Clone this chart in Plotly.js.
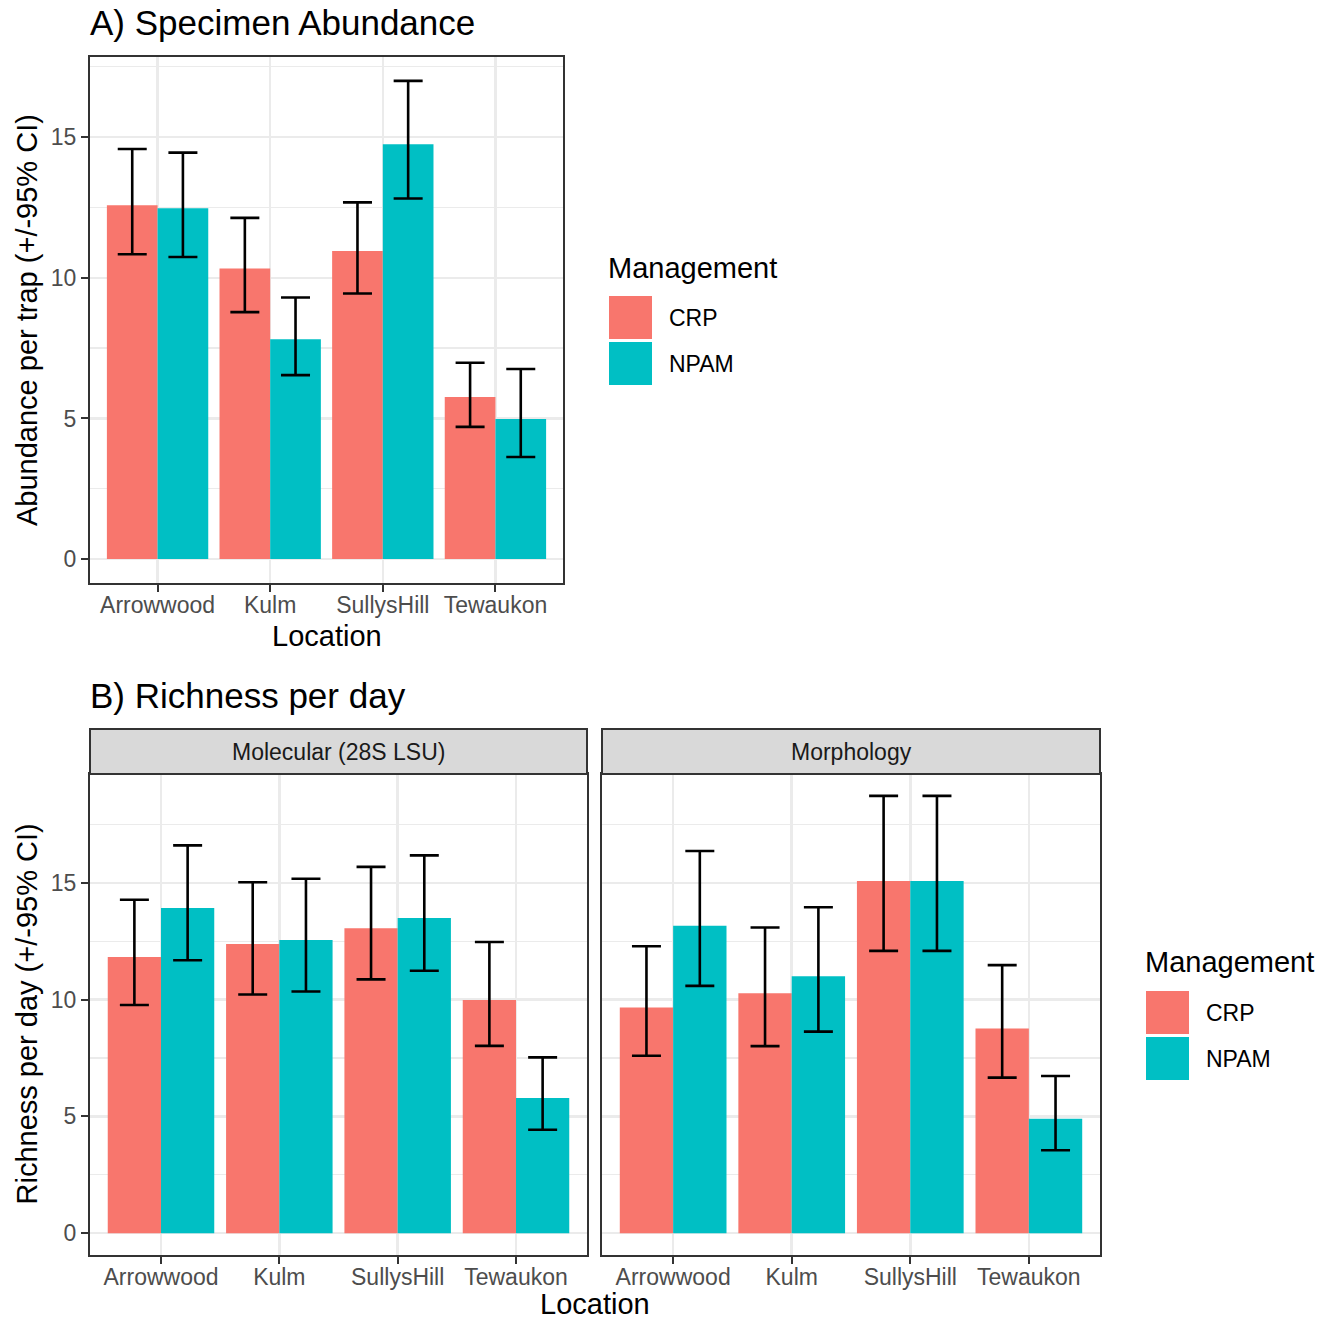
<!DOCTYPE html>
<html>
<head>
<meta charset="utf-8">
<script src="https://cdn.plot.ly/plotly-3.0.1.min.js"></script>
<style>html,body{margin:0;padding:0;background:#fff;}#chart{width:1333px;height:1322px;}</style>
</head>
<body>
<div id="chart"></div>
<script>
// ---------- data ----------
const locations = ['Arrowwood', 'Kulm', 'SullysHill', 'Tewaukon'];
const groups = ['CRP', 'NPAM'];

// A) Specimen abundance per trap (mean, lower, upper 95% CI)
const abundCRP     = [12.58, 10.33, 10.95, 5.76];
const abundCRPlo   = [10.84,  8.78,  9.44, 4.70];
const abundCRPhi   = [14.58, 12.13, 12.68, 6.98];
const abundNPAM    = [12.47,  7.82, 14.75, 4.98];
const abundNPAMlo  = [10.74,  6.54, 12.82, 3.63];
const abundNPAMhi  = [14.45,  9.30, 17.00, 6.76];

// B) Richness per day — Molecular (28S LSU)
const molCRP     = [11.83, 12.38, 13.06,  9.99];
const molCRPlo   = [ 9.77, 10.22, 10.87,  8.02];
const molCRPhi   = [14.28, 15.03, 15.69, 12.47];
const molNPAM    = [13.93, 12.56, 13.50,  5.79];
const molNPAMlo  = [11.69, 10.35, 11.24,  4.43];
const molNPAMhi  = [16.61, 15.18, 16.18,  7.53];

// B) Richness per day — Morphology
const morCRP     = [ 9.67, 10.28, 15.08,  8.77];
const morCRPlo   = [ 7.60,  8.01, 12.09,  6.66];
const morCRPhi   = [12.29, 13.09, 18.73, 11.48];
const morNPAM    = [13.17, 11.00, 15.08,  4.90];
const morNPAMlo  = [10.59,  8.63, 12.09,  3.55];
const morNPAMhi  = [16.37, 13.96, 18.73,  6.73];

const facetLabels = ['Molecular (28S LSU)', 'Morphology'];
const colors = {CRP: '#F8766D', NPAM: '#00BFC4'};

// ---------- helpers ----------
const W = 1333, H = 1322;
const px = v => v / W;
const py = v => 1 - v / H;
const FONT = 'Liberation Sans, Arial, Helvetica, sans-serif';

function barTrace(name, vals, lo, hi, xa, ya) {
  return {
    type: 'bar', name: name, x: locations, y: vals,
    xaxis: xa, yaxis: ya, showlegend: false,
    marker: {color: colors[name], line: {width: 0}},
    error_y: {
      type: 'data', symmetric: false,
      array: hi.map((h, i) => h - vals[i]),
      arrayminus: lo.map((l, i) => vals[i] - l),
      color: '#000000', thickness: 2.6, width: 14.5
    },
    hoverinfo: 'x+y+name'
  };
}

const data = [
  barTrace('CRP',  abundCRP,  abundCRPlo,  abundCRPhi,  'x',  'y'),
  barTrace('NPAM', abundNPAM, abundNPAMlo, abundNPAMhi, 'x',  'y'),
  barTrace('CRP',  molCRP,    molCRPlo,    molCRPhi,    'x2', 'y2'),
  barTrace('NPAM', molNPAM,   molNPAMlo,   molNPAMhi,   'x2', 'y2'),
  barTrace('CRP',  morCRP,    morCRPlo,    morCRPhi,    'x3', 'y3'),
  barTrace('NPAM', morNPAM,   morNPAMlo,   morNPAMhi,   'x3', 'y3')
];

const maxA = Math.max(...abundCRPhi, ...abundNPAMhi);
const maxB = Math.max(...molCRPhi, ...molNPAMhi, ...morCRPhi, ...morNPAMhi);
const rangeA = [-0.05 * maxA, maxA * 1.05];
const rangeB = [-0.05 * maxB, maxB * 1.05];

const tickFont = {family: FONT, size: 23, color: '#4D4D4D'};
function xAxis(domain, anchor) {
  return {
    domain: domain, anchor: anchor, type: 'category',
    range: [-0.6, 3.6], fixedrange: true,
    showgrid: true, gridcolor: '#EBEBEB', gridwidth: 2.5,
    showline: true, linecolor: '#333333', linewidth: 2, mirror: true,
    ticks: 'outside', ticklen: 7, tickwidth: 2, tickcolor: '#333333',
    ticklabelstandoff: -7,
    tickfont: tickFont, zeroline: false, automargin: false
  };
}
function yAxis(domain, anchor, range, showLabels) {
  return {
    domain: domain, anchor: anchor, range: range, fixedrange: true,
    tick0: 0, dtick: 5,
    showgrid: true, gridcolor: '#EBEBEB', gridwidth: 2.5,
    minor: {tick0: 0, dtick: 2.5, showgrid: true, gridcolor: '#EBEBEB', gridwidth: 1.3, ticks: ''},
    showline: true, linecolor: '#333333', linewidth: 2, mirror: true,
    ticks: showLabels ? 'outside' : '', ticklen: 7, tickwidth: 2, tickcolor: '#333333',
    showticklabels: showLabels, tickfont: tickFont,
    zeroline: false, automargin: false
  };
}

// pixel layout
const A = {l: 90, r: 563, t: 57, b: 583};
const B1 = {l: 90, r: 587, t: 774, b: 1255, st: 729};
const B2 = {l: 602, r: 1100, t: 774, b: 1255, st: 729};

const shapes = [];
const annotations = [];

function ann(text, x, y, size, opts) {
  annotations.push(Object.assign({
    text: text, xref: 'paper', yref: 'paper', x: px(x), y: py(y),
    xanchor: 'left', yanchor: 'middle', showarrow: false,
    font: {family: FONT, size: size, color: '#000000'}
  }, opts || {}));
}

// titles
ann('A) Specimen Abundance', 88, 23, 35);
ann('B) Richness per day', 88, 695, 35);
// axis titles
ann('Location', (A.l + A.r) / 2, 636, 29, {xanchor: 'center'});
ann('Location', (B1.l + B2.r) / 2, 1304, 29, {xanchor: 'center'});
ann('Abundance per trap (+/-95% CI)', 27, (A.t + A.b) / 2, 29, {xanchor: 'center', textangle: -90});
ann('Richness per day (+/-95% CI)', 27, (B1.t + B1.b) / 2, 29, {xanchor: 'center', textangle: -90});

// strips
[B1, B2].forEach((p, i) => {
  shapes.push({type: 'rect', xref: 'paper', yref: 'paper', layer: 'above',
    x0: px(p.l), x1: px(p.r), y0: py(p.st), y1: py(p.t),
    fillcolor: '#D9D9D9', line: {color: '#333333', width: 2}});
  ann(facetLabels[i], (p.l + p.r) / 2, (p.st + p.t) / 2, 23,
      {xanchor: 'center', font: {family: FONT, size: 23, color: '#1A1A1A'}});
});

// legends (drawn manually, ggplot-style large keys)
function legend(x, titleY, keyTop) {
  ann('Management', x - 3, titleY, 29);
  groups.forEach((g, i) => {
    const top = keyTop + i * 46;
    shapes.push({type: 'rect', xref: 'paper', yref: 'paper',
      x0: px(x), x1: px(x + 43), y0: py(top), y1: py(top + 43),
      fillcolor: colors[g], line: {width: 0}});
    ann(g, x + 58, top + 21.5, 23);
  });
}
legend(609, 268, 296);
legend(1146, 962, 991);

const layout = {
  width: W, height: H, autosize: false,
  margin: {l: 0, r: 0, t: 0, b: 0, pad: 0},
  paper_bgcolor: '#FFFFFF', plot_bgcolor: '#FFFFFF',
  barmode: 'group', bargap: 0.1, bargroupgap: 0,
  showlegend: false,
  font: {family: FONT, color: '#000000'},
  xaxis:  xAxis([px(A.l), px(A.r)], 'y'),
  yaxis:  yAxis([py(A.b), py(A.t)], 'x', rangeA, true),
  xaxis2: xAxis([px(B1.l), px(B1.r)], 'y2'),
  yaxis2: yAxis([py(B1.b), py(B1.t)], 'x2', rangeB, true),
  xaxis3: xAxis([px(B2.l), px(B2.r)], 'y3'),
  yaxis3: yAxis([py(B2.b), py(B2.t)], 'x3', rangeB, false),
  shapes: shapes,
  annotations: annotations
};

Plotly.newPlot('chart', data, layout, {displayModeBar: false, staticPlot: true});
</script>
</body>
</html>
